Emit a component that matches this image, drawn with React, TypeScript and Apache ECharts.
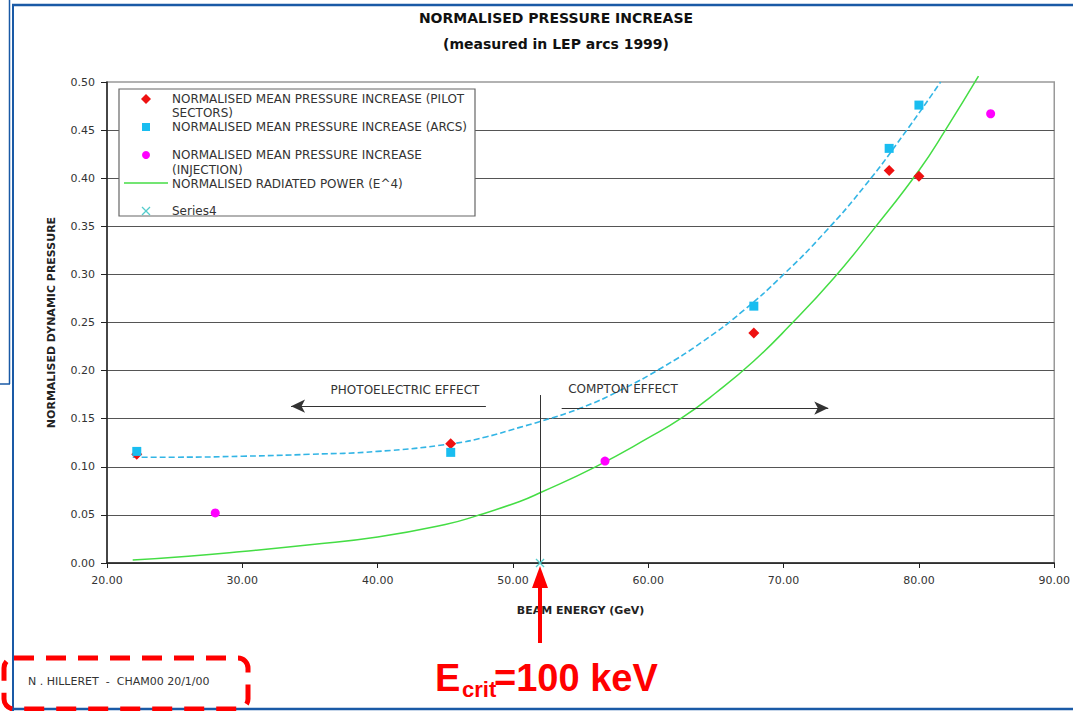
import React, { useEffect, useRef } from "react";
import * as echarts from "echarts";

// ---- data ----
const pilotX = [22.2, 45.4, 67.8, 77.8, 80.0];
const pilotY = [0.113, 0.124, 0.239, 0.408, 0.402];

const arcsX = [22.2, 45.4, 67.8, 77.8, 80.0];
const arcsY = [0.116, 0.115, 0.267, 0.431, 0.476];

const injX = [28.0, 56.8, 85.3];
const injY = [0.052, 0.106, 0.467];

const powerX = [21.9, 26, 30, 35, 40, 45, 47.3, 50.5, 52, 56.1, 60, 62.5, 65, 67.8, 70.4, 73.7, 76.6, 80.0, 82.0, 84.4];
const powerY = [0.003, 0.007, 0.012, 0.019, 0.027, 0.04, 0.049, 0.064, 0.073, 0.1, 0.13, 0.151, 0.177, 0.21, 0.246, 0.296, 0.346, 0.408, 0.451, 0.506];

const trendX = [21.9, 25, 30, 35, 40, 45.5, 48, 50.5, 52, 55, 58, 61, 64, 67, 70, 73, 76, 79, 81.6];
const trendY = [0.11, 0.11, 0.111, 0.113, 0.116, 0.124, 0.131, 0.141, 0.147, 0.161, 0.18, 0.203, 0.23, 0.262, 0.3, 0.343, 0.392, 0.448, 0.5];

const series4X = [52.0];
const series4Y = [0];

const xTicks = { min: 20, max: 90, interval: 10 };
const yTicks = { min: 0, max: 0.5, interval: 0.05 };

const critLineX = 52.0;
const critLineTop = 0.1746;
const photoArrow = { from: 48.0, to: 33.6, y: 0.163 };
const comptonArrow = { from: 53.6, to: 73.3, y: 0.161 };

const legendNames = [
  ["NORMALISED MEAN PRESSURE INCREASE (PILOT", "SECTORS)"],
  ["NORMALISED MEAN PRESSURE INCREASE (ARCS)"],
  ["NORMALISED MEAN PRESSURE INCREASE", "(INJECTION)"],
  ["NORMALISED RADIATED POWER (E^4)"],
  ["Series4"],
];

const zip = (xs: number[], ys: number[]) => xs.map((x, i) => [x, ys[i]]);

const RED = "#ee1111";
const CYAN = "#19bdf0";
const MAGENTA = "#ff00ff";
const GREEN = "#44dd44";
const TREND = "#33b5e5";
const XCOL = "#55cccc";
const BLUE = "#1a5aa6";
const FONT = '"DejaVu Sans", sans-serif';

export default function App() {
  const ref = useRef<HTMLDivElement>(null);
  useEffect(() => {
    const chart = echarts.init(ref.current!, null, { renderer: "svg" });
    const legendTextYs = [[99, 113], [127], [155, 170], [184], [211]];
    const legendTexts: any[] = [];
    legendNames.forEach((lines, i) => {
      lines.forEach((t, j) => {
        legendTexts.push({
          type: "text",
          x: 172,
          y: legendTextYs[i][j],
          z: 101,
          style: { text: t, fill: "#333", font: `12px ${FONT}`, verticalAlign: "middle" },
        });
      });
    });

    const option: any = {
      animation: false,
      backgroundColor: "#fff",
      grid: {
        left: 107,
        top: 82,
        right: 17,
        bottom: 148,
        show: true,
        borderColor: "#999",
        borderWidth: 1.5,
      },
      xAxis: {
        type: "value",
        min: xTicks.min,
        max: xTicks.max,
        interval: xTicks.interval,
        axisLine: { onZero: false, lineStyle: { color: "#222", width: 1.5 } },
        axisTick: { length: 5, lineStyle: { color: "#222" } },
        axisLabel: {
          formatter: (v: number) => v.toFixed(2),
          color: "#333",
          fontSize: 11,
          fontFamily: FONT,
          margin: 12,
        },
        splitLine: { show: false },
        name: "BEAM ENERGY (GeV)",
        nameLocation: "middle",
        nameGap: 42,
        nameTextStyle: { fontWeight: "bold", fontSize: 11, color: "#222", fontFamily: FONT },
      },
      yAxis: {
        type: "value",
        min: yTicks.min,
        max: yTicks.max,
        interval: yTicks.interval,
        axisLine: { show: true, onZero: false, lineStyle: { color: "#222", width: 1.5 } },
        axisTick: { show: true, length: 6, lineStyle: { color: "#222" } },
        axisLabel: {
          formatter: (v: number) => v.toFixed(2),
          color: "#333",
          fontSize: 11,
          fontFamily: FONT,
          margin: 12,
        },
        splitLine: { show: true, showMaxLine: false, lineStyle: { color: "#555", width: 1.2 } },
        name: "NORMALISED DYNAMIC PRESSURE",
        nameLocation: "middle",
        nameGap: 50,
        nameTextStyle: { fontWeight: "bold", fontSize: 11, color: "#222", fontFamily: FONT },
      },
      series: [
        {
          name: "trend",
          type: "line",
          data: zip(trendX, trendY),
          smooth: 0.5,
          showSymbol: false,
          clip: false,
          lineStyle: { color: TREND, width: 1.6, type: [6, 3] },
          z: 2,
        },
        {
          name: "NORMALISED RADIATED POWER (E^4)",
          type: "line",
          data: zip(powerX, powerY),
          smooth: 0.5,
          showSymbol: false,
          clip: false,
          lineStyle: { color: GREEN, width: 1.5 },
          z: 2,
        },
        {
          name: "NORMALISED MEAN PRESSURE INCREASE (PILOT SECTORS)",
          type: "scatter",
          symbol: "diamond",
          symbolSize: 11,
          data: zip(pilotX, pilotY),
          itemStyle: { color: RED, opacity: 1 },
          z: 3,
        },
        {
          name: "NORMALISED MEAN PRESSURE INCREASE (ARCS)",
          type: "scatter",
          symbol: "rect",
          symbolSize: 9,
          data: zip(arcsX, arcsY),
          itemStyle: { color: CYAN, opacity: 1 },
          z: 4,
        },
        {
          name: "NORMALISED MEAN PRESSURE INCREASE (INJECTION)",
          type: "scatter",
          symbol: "circle",
          symbolSize: 9,
          data: zip(injX, injY),
          itemStyle: { color: MAGENTA, opacity: 1 },
          z: 4,
        },
        {
          name: "Series4",
          type: "scatter",
          symbol: "path://M0,1L1,0L5,4L9,0L10,1L6,5L10,9L9,10L5,6L1,10L0,9L4,5Z",
          symbolSize: 9,
          data: zip(series4X, series4Y),
          itemStyle: { color: XCOL, opacity: 1 },
          z: 5,
          markLine: {
            silent: true,
            symbol: ["none", "none"],
            label: { show: false },
            lineStyle: { color: "#333", width: 1, type: "solid" },
            data: [
              [
                { coord: [critLineX, critLineTop], symbol: "none" },
                { coord: [critLineX, 0], symbol: "none" },
              ],
              [
                { coord: [photoArrow.from, photoArrow.y], symbol: "none" },
                { coord: [photoArrow.to, photoArrow.y], symbol: "arrow", symbolSize: [10, 14] },
              ],
              [
                { coord: [comptonArrow.from, comptonArrow.y], symbol: "none" },
                { coord: [comptonArrow.to, comptonArrow.y], symbol: "arrow", symbolSize: [10, 14] },
              ],
            ],
          },
        },
      ],
      graphic: [
        // page frame
        { type: "line", z: 90, shape: { x1: 12, y1: 5, x2: 1073, y2: 5 }, style: { stroke: BLUE, lineWidth: 2.5 } },
        { type: "line", z: 90, shape: { x1: 13, y1: 5, x2: 13, y2: 711 }, style: { stroke: BLUE, lineWidth: 2 } },
        { type: "line", z: 90, shape: { x1: 12, y1: 709, x2: 1073, y2: 709 }, style: { stroke: BLUE, lineWidth: 2.5 } },
        { type: "line", z: 90, shape: { x1: 9.5, y1: 0, x2: 9.5, y2: 384 }, style: { stroke: BLUE, lineWidth: 1.5 } },
        { type: "line", z: 90, shape: { x1: 0, y1: 384, x2: 10, y2: 384 }, style: { stroke: BLUE, lineWidth: 1.5 } },
        // title
        {
          type: "text", x: 556, y: 18, z: 100,
          style: { text: "NORMALISED PRESSURE INCREASE", fill: "#111", font: `bold 14px ${FONT}`, align: "center", verticalAlign: "middle" },
        },
        {
          type: "text", x: 556, y: 44, z: 100,
          style: { text: "(measured in LEP arcs 1999)", fill: "#111", font: `bold 14px ${FONT}`, align: "center", verticalAlign: "middle" },
        },
        // legend
        { type: "rect", z: 100, shape: { x: 119, y: 89, width: 356, height: 127 }, style: { fill: "#fff", stroke: "#666", lineWidth: 1.2 } },
        { type: "polygon", z: 101, shape: { points: [[146, 94], [151, 99], [146, 104], [141, 99]] }, style: { fill: RED } },
        { type: "rect", z: 101, shape: { x: 142, y: 123, width: 8, height: 8 }, style: { fill: CYAN } },
        { type: "circle", z: 101, shape: { cx: 146, cy: 155, r: 4 }, style: { fill: MAGENTA } },
        { type: "line", z: 101, shape: { x1: 124, y1: 183, x2: 168, y2: 183 }, style: { stroke: GREEN, lineWidth: 1.5 } },
        { type: "line", z: 101, shape: { x1: 142, y1: 207, x2: 150, y2: 215 }, style: { stroke: XCOL, lineWidth: 1.2 } },
        { type: "line", z: 101, shape: { x1: 150, y1: 207, x2: 142, y2: 215 }, style: { stroke: XCOL, lineWidth: 1.2 } },
        ...legendTexts,
        // effect labels
        {
          type: "text", x: 405, y: 390, z: 100,
          style: { text: "PHOTOELECTRIC EFFECT", fill: "#333", font: `12px ${FONT}`, align: "center", verticalAlign: "middle" },
        },
        {
          type: "text", x: 623, y: 389, z: 100,
          style: { text: "COMPTON EFFECT", fill: "#333", font: `12px ${FONT}`, align: "center", verticalAlign: "middle" },
        },
        // red annotation arrow
        { type: "rect", z: 110, shape: { x: 538, y: 585, width: 4, height: 58 }, style: { fill: "#ff0000" } },
        { type: "polygon", z: 110, shape: { points: [[540, 566], [548, 588], [532, 588]] }, style: { fill: "#ff0000" } },
        // E_crit text
        {
          type: "text", x: 435, y: 678, z: 110,
          style: { text: "E", fill: "#ff0000", font: `bold 38px "Liberation Sans", Arial, sans-serif`, verticalAlign: "middle" },
        },
        {
          type: "text", x: 462, y: 689, z: 110,
          style: { text: "crit", fill: "#ff0000", font: `bold 22px "Liberation Sans", Arial, sans-serif`, verticalAlign: "middle" },
        },
        {
          type: "text", x: 494, y: 678, z: 110,
          style: { text: "=100 keV", fill: "#ff0000", font: `bold 38px "Liberation Sans", Arial, sans-serif`, verticalAlign: "middle" },
        },
        // author box
        {
          type: "text", x: 28, y: 681, z: 110,
          style: { text: "N . HILLERET  -  CHAM00 20/1/00", fill: "#333", font: `11px ${FONT}`, verticalAlign: "middle" },
        },
        {
          type: "rect", z: 111,
          shape: { x: 4, y: 658, width: 244, height: 51, r: 10 },
          style: { fill: "none", stroke: "#ff0000", lineWidth: 5, lineDash: [20, 12] },
        },
      ],
    };
    chart.setOption(option);
    return () => chart.dispose();
  }, []);
  return (
    <div
      ref={ref}
      style={{ position: "fixed", left: 0, top: 0, width: 1073, height: 711, background: "#fff" }}
    />
  );
}
